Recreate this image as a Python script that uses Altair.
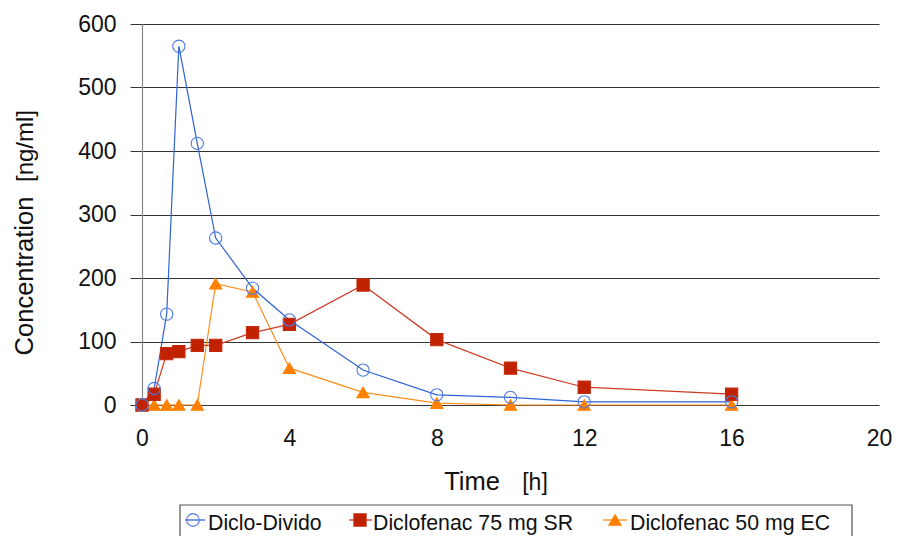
import altair as alt
import pandas as pd

series_names = ["Diclo-Divido", "Diclofenac 75 mg SR", "Diclofenac 50 mg EC"]
times = [0, 0.33, 0.67, 1, 1.5, 2, 3, 4, 6, 8, 10, 12, 16]
conc_divido = [0, 26, 143, 565, 412, 263, 184, 134, 55, 16, 12, 5, 5]
conc_sr = [0, 17, 81, 84, 94, 94, 114, 127, 189, 103, 58, 28, 17]
conc_ec = [0, 0, 0, 0, 0, 191, 178, 58, 20, 3, 0, 0, 0]

y_ticks = [0, 100, 200, 300, 400, 500, 600]
x_ticks = [0, 4, 8, 12, 16, 20]

line_colors = ["#2f62d4", "#cc3a22", "#ff8c1a"]
stroke_colors = ["#4f7be0", "#c42a0c", "#ff8000"]
fill_colors = ["transparent", "#c02200", "#ff8000"]
shapes = ["circle", "square", "triangle-up"]

rows = []
for name, vals in [(series_names[2], conc_ec), (series_names[1], conc_sr), (series_names[0], conc_divido)]:
    for t, v in zip(times, vals):
        rows.append({"series": name, "time": t, "conc": v})
df = pd.DataFrame(rows)

FONT = "Liberation Sans"

x_enc = alt.X("time:Q", scale=alt.Scale(domain=[0, 20], nice=False),
              axis=alt.Axis(values=x_ticks, title=None, grid=False, domain=False,
                            ticks=False, tickSize=0, labelPadding=22, labelFlush=False,
                            labelFontSize=23, labelFont=FONT, labelColor="#111"))
y_enc = alt.Y("conc:Q", scale=alt.Scale(domain=[0, 600], nice=False),
              axis=alt.Axis(values=y_ticks, title=None, grid=True, gridColor="#333",
                            gridWidth=1.2, gridOpacity=1, domain=True, domainColor="#888",
                            domainWidth=1.2, ticks=True, tickSize=12, tickColor="#333",
                            labelPadding=14, labelFontSize=23, labelFont=FONT,
                            labelFlush=False, labelColor="#111"))

lines = alt.Chart(df).mark_line(strokeWidth=1.2).encode(
    x=x_enc, y=y_enc,
    color=alt.Color("series:N", scale=alt.Scale(domain=series_names, range=line_colors), legend=None),
    detail="series:N",
)

points = alt.Chart(df).mark_point(size=150, strokeWidth=1.1, opacity=1, filled=False).encode(
    x="time:Q", y="conc:Q",
    stroke=alt.Stroke("series:N", scale=alt.Scale(domain=series_names, range=stroke_colors), legend=None),
    fill=alt.Fill("series:N", scale=alt.Scale(domain=series_names, range=fill_colors), legend=None),
    shape=alt.Shape("series:N", scale=alt.Scale(domain=series_names, range=shapes), legend=None),
)

def label_layer(text, x, y, size, angle=0, align="center"):
    return alt.Chart(alt.Data(values=[{"t": text}])).mark_text(
        font=FONT, fontSize=size, angle=angle, align=align, baseline="alphabetic",
        color="#111"
    ).encode(text="t:N", x=alt.value(x), y=alt.value(y))

y_title = "Concentration"
y_unit = "[ng/ml]"
x_title = "Time"
x_unit = "[h]"

# custom legend (line through marker, boxed, below the plot)
one = alt.Data(values=[{"k": 1}])
legend_box = alt.Chart(one).mark_rect(fill="white", stroke="#555", strokeWidth=1.2).encode(
    x=alt.value(38), x2=alt.value(710), y=alt.value(481), y2=alt.value(540)
)
legend_layers = [legend_box]
entry_sym_x = [51, 218, 473]
entry_line_x = [(43, 63), (207, 230), (461, 485)]
entry_text_x = [66, 231, 488]
sym_y = 496
sizes = [160, 150, 150]
for i, name in enumerate(series_names):
    lx1, lx2 = entry_line_x[i]
    legend_layers.append(
        alt.Chart(one).mark_rule(color=line_colors[i], strokeWidth=1.3).encode(
            x=alt.value(lx1), x2=alt.value(lx2), y=alt.value(sym_y)
        )
    )
    legend_layers.append(
        alt.Chart(one).mark_point(shape=shapes[i], size=sizes[i], stroke=stroke_colors[i],
                                  fill=fill_colors[i], strokeWidth=1.1, opacity=1).encode(
            x=alt.value(entry_sym_x[i]), y=alt.value(sym_y)
        )
    )
    legend_layers.append(label_layer(name, entry_text_x[i], 506, 21.3, align="left"))

chart = alt.layer(
    lines, points,
    label_layer(y_title, -109, 252, 25.5, 270),
    label_layer(y_unit, -109, 122, 24, 270),
    label_layer(x_title, 330, 466, 25.5),
    label_layer(x_unit, 393, 466, 23),
    *legend_layers,
).properties(
    width=737, height=381,
    autosize=alt.AutoSizeParams(type="none"),
    padding={"left": 134, "top": 16, "right": 13, "bottom": 140},
).configure_view(stroke=None)

chart.save("out.html", embed_options={"renderer": "svg", "actions": False})
